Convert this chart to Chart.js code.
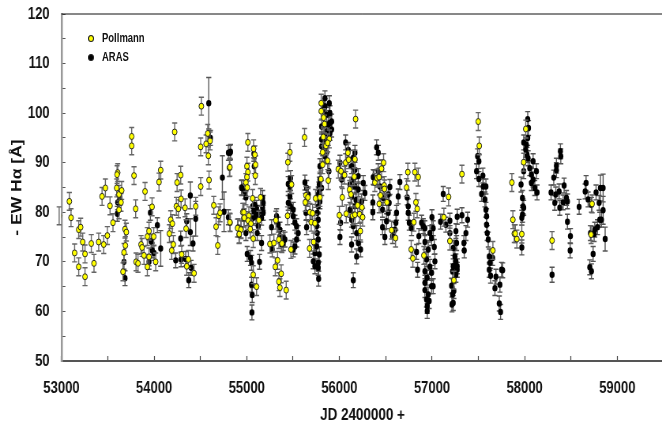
<!DOCTYPE html>
<html>
<head>
<meta charset="utf-8">
<title>EW H-alpha</title>
<script src="https://cdn.jsdelivr.net/npm/chart.js@4"></script>
<style>
  html, body { margin: 0; padding: 0; background: #fff; overflow: hidden; width: 662px; height: 426px; }
  #wrap { position: relative; width: 662px; height: 426px; overflow: hidden; }
  /* the picture is squeezed sideways, so the whole plot is drawn wide and scaled */
  #squeeze { position: absolute; left: 0; top: 0; width: 845px; height: 426px; transform: scaleX(0.79); transform-origin: 0 0; }
  .key { position: absolute; left: 102px; font: bold 12px "Liberation Sans", Arial, sans-serif; color: #111; line-height: 14px; transform: scaleX(0.79); transform-origin: 0 0; }
  .dot { position: absolute; left: 88px; width: 4px; height: 5px; border-radius: 50%; border: 1px solid #222; }
</style>
</head>
<body>
<div id="wrap">
  <div id="squeeze"><canvas id="ewChart" width="845" height="426"></canvas></div>
  <div class="dot" style="top:35px;background:#ffff00"></div>
  <div class="key" style="top:31px">Pollmann</div>
  <div class="dot" style="top:54px;background:#000"></div>
  <div class="key" style="top:50px">ARAS</div>
</div>
<script>
// Values
const pollmannJD = [52975,53085,53103,53186,53207,53229,53142,53186,53254,53254,53322,53351,53402,53456,53495,53438,53474,53524,53556,53596,53607,53600,53621,53650,53643,53621,53686,53700,53690,53675,53664,53758,53758,53783,53801,53902,53805,53826,53859,53870,53891,53927,53945,53978,53996,53945,53927,54017,54053,54071,54165,54179,54197,54190,54208,54222,54248,54287,54291,54240,54262,54334,54345,54298,54352,54370,54431,54449,54503,54510,54503,54579,54561,54604,54586,54593,54644,54669,54687,54698,54712,54813,54820,54906,54917,54939,54957,54968,
  54818,54818,54901,54937,54919,54969,54973,55023,55016,55045,55038,55070,55012,55074,55088,55095,55002,55012,55002,54991,55005,55092,55063,55149,55131,55070,55106,55250,55293,55315,55347,55380,55333,55308,55372,55347,55358,55426,55441,55444,55466,55484,55477,55624,55639,55660,55632,55682,55711,55696,55736,55722,55678,55743,55790,55880,55801,55819,55873,55819,55855,55891,55873,55826,55840,55830,55804,55804,56175,55988,56017,56056,56067,56092,56100,56168,56161,56031,56110,56125,56000,56074,56143,56168,56197,56244,56218,56251,56226,
  56383,56408,56428,56455,56477,56484,56487,56444,56430,56513,56563,56606,56739,56815,56851,56725,56826,56840,56804,56775,56793,56912,57128,57179,57193,57236,57323,57499,57510,57657,57862,57873,57888,57916,57899,
  57969,58012,57990,58296,58728,58717];
const pollmannEW = [79.3,82.2,78.9,76.5,77,74,71.8,69,71.6,67,73.7,69.7,74,73.5,75.3,83.2,84.9,81.3,77.9,84.9,88,87.6,83.6,84.4,82,80.5,76.6,76,73.3,71.9,68,95.3,93.4,87.4,80.7,84.2,70,69.7,73.5,72.9,71.3,75.1,76.2,81.1,75.1,71,69,70,86.1,88.5,75.7,78.5,77.7,72.3,73.5,96.2,86,87.5,82.7,81.2,80.7,80.9,76.7,71.5,69.1,70.5,67.7,81.2,93.2,101.4,85.2,95.9,93.8,94.4,91.4,86.5,81.4,77.1,73.3,79.3,79.9,89,77.9,76.9,75.5,76.6,80,78.8,
  89.1,78,76.8,76.5,75.6,80,78.9,79.3,78.3,77.7,76.6,74.7,94.1,92.8,91.6,89.6,89.3,88.1,87.1,86,85,87.4,82.8,83,78.4,67.4,65,73.6,73.8,78.4,74.5,73.7,70.3,69,67.6,66,64.8,64.3,79.3,90.1,92.1,85.6,72.5,95.1,83.4,83,82,80,79.8,78,77.8,74,72.7,82.8,83,86.4,86.7,89.6,90.4,92.1,93.4,94.8,94,95.2,97.8,99.1,100.4,102,98.8,88.7,88.3,87.5,90,92,90.6,90.7,87.2,83,84.6,83.6,79.4,79.7,79.3,79.5,81.4,81,79.6,79,76.2,
  86,86.9,87.1,88.8,90,85.4,84.7,83.4,81.7,82,76.4,74.8,88.1,88.1,87.1,85,82,80.7,78,72.5,70.7,71.3,79,83.1,74.2,66.3,87.7,98.3,93.4,72.3,86,78.5,75.7,74.6,75.7,
  75.6,96.8,90.1,74.3,81.7,75.5];

const arasJD = [54590,54608,53603,53607,53632,53686,53675,53960,54035,54071,53981,53999,53945,53967,54233,54287,54291,54352,54391,54391,54420,54449,54341,54374,54399,54737,54755,54802,54820,54802,54946,
  54825,54944,54980,54991,55077,55081,55063,55088,55106,55077,55099,55124,55070,55171,55178,55171,55178,55160,55124,55113,54991,55160,55005,55041,55052,55138,55052,55059,55056,55268,55275,55322,55340,55358,55358,55394,55412,55376,55394,55473,55473,55448,55466,55466,55448,55473,55502,55502,55520,55538,55556,55538,55520,55502,55628,55646,55664,55639,55646,
  55779,55772,55790,55772,55761,55772,55754,55761,55772,55754,55736,55783,55718,55772,55736,55772,55776,55844,55891,55844,55898,55862,55916,55880,55862,55916,55844,55880,55808,55862,55844,55887,55790,55808,55808,55826,55898,55898,55862,55790,55783,55808,
  56067,56006,56024,56096,56168,56150,56132,56168,56204,56150,56114,56168,56204,56132,56179,56258,56276,56240,56168,56114,56132,56150,56186,56204,56132,56186,56229,56150,56013,56006,56402,56420,56373,
  56361,56361,56365,56419,56437,56473,56466,56466,56491,56545,56527,56538,56527,56509,56574,56599,56610,56617,56635,56653,56732,56743,56743,56754,56779,56833,56844,56858,56887,56905,56923,56999,57013,56977,56995,56923,57024,56959,57031,56941,56977,56923,56995,56948,56995,56923,57013,56923,56959,56941,56970,56948,56948,
  57121,57092,57150,57193,57193,57258,57265,57229,57272,57323,57384,57366,57344,57348,57247,57258,57229,57272,57222,57272,57258,57211,57236,57222,57229,57215,57492,57506,57481,57506,57549,57553,57535,57582,57571,57582,57589,57589,57596,57607,57618,57654,57625,57618,57632,57690,57751,57762,57679,57733,57726,57740,
  58033,58041,58033,57990,58019,58012,58026,58037,58091,57990,58055,58127,58073,58091,58073,58109,58134,57961,57976,57983,57990,57976,57969,57969,58386,58390,58343,58343,58314,58285,58336,58372,58426,58325,58415,58379,58451,58462,58462,58494,58491,58296,58588,58663,58653,58685,58721,58771,58818,58847,58804,58847,58811,58829,58786,58757,58710,58750,58869,58739,58703,58721];
const arasEW = [102,95,79.7,82,82.9,66.7,70,79.9,77.4,72.7,72.3,71.8,70,74.1,70.3,74.7,70.5,78.2,83.4,76,73.7,78.7,70.6,66.3,68.8,87,80.1,92,92,79,84.9,
  92.2,85,84.2,83,91.8,89.3,81.2,81.5,80.9,80.2,79.2,79.9,78.9,82.9,81.9,80.9,79.9,78.9,77.2,75.8,75.8,73.8,71.6,70.8,69.8,70,65.4,63.3,59.8,77,72.5,79.2,77.5,76.5,75.2,74.8,74.5,73.5,73.8,86.9,85.9,85.7,85.2,83.2,81.9,81.2,80.5,79.2,77.9,77.2,75.8,74.5,73.1,72.5,86,84.9,83.6,79.9,77,
  84.6,83.6,82.2,81.2,79.9,78.5,77.2,75.8,74.5,73.1,71.8,71.5,70.1,69.8,69.1,68.8,66.6,103,102,101.4,100,99.7,98.3,97.7,96.3,96.7,95.7,95,93.3,92,91.3,88.3,89.3,97.3,94.7,100.7,98,96,94.3,86.6,85.6,84.9,
  94.1,90,86.6,92.6,92,91,89.3,88.6,87.3,86.6,85.6,85.2,84.6,83.2,82.5,85.9,83.9,82.2,81.2,80.5,78.5,77.2,75.8,73.8,73.5,71.1,72.5,66.3,77.9,75,93.1,92,87,
  82,80,87.1,88.3,85.2,82.9,80.5,77,75,85.1,83.6,81.9,79.9,78.2,75.2,76.5,77.9,79.9,83.2,86.1,83,81.2,79.9,77.9,76.8,72,68.4,75.2,77.9,77.2,76.8,79,76.8,75.8,74.8,74,73,72.5,70.1,70.5,69,68.1,67.8,66.8,65.1,65.8,65.1,64.3,63.4,62.4,62.1,61.1,60.1,
  83.7,78.1,77.5,78.3,75.8,76.2,73.8,72.8,79.1,79.4,78.5,75.8,73.8,72.3,71.1,70.1,69.1,69.1,68.1,68.4,67.4,65.2,64.1,63.4,61.7,61.4,91.3,90.3,88.3,86.7,87.4,85.2,83.7,85.2,82.6,80.5,79.2,77.5,75.8,74.5,71.1,70.8,69.8,68.4,67.2,67,68.4,68.3,64.7,65.4,61.6,59.9,
  98.8,97,95,94.1,93.6,92.6,91.6,90.9,90.3,88.3,88.9,88.3,87.6,86.6,85.9,84.9,84,85.6,82.9,81.2,80.9,79.5,78.9,72.9,92.3,91.3,89.4,88.5,87,84,83.6,84.2,85.4,81.9,82,80.9,82.9,82.2,78.1,75.2,72.3,67.4,81.1,85.9,84.2,82.6,81.5,84,84.9,84.9,81.9,80.4,78.5,78.5,77,76.5,75.8,75.6,74.6,71.6,68.9,68.1];

// typical half-length of the error bars, and the few longer ones on ARAS (by JD)
const pollmannErr = 1.8;
const arasErr = 1.5;
const arasLongErr = { 54590: 5.2, 54737: 4.4, 54755: 4, 54071: 3.6, 54449: 3.5, 54391: 2.7, 58869: 2.4, 58847: 2.8, 58818: 2.6 };

const yTicks = [50, 60, 70, 80, 90, 100, 110, 120];
const xTicks = [53000, 54000, 55000, 56000, 57000, 58000, 59000];

const labelFont = '"Liberation Sans", Arial, sans-serif';

function toPoints(xs, ys) {
  const pts = [];
  for (let i = 0; i < xs.length; i++) pts.push({ x: xs[i], y: ys[i] });
  return pts;
}

// Chart.js has no error bars of its own, draw them under each dataset
const errorBars = {
  id: 'errorBars',
  beforeDatasetDraw(chart, args) {
    const ds = chart.data.datasets[args.index];
    const ctx = chart.ctx;
    const xs = chart.scales.x;
    const ys = chart.scales.y;
    ctx.save();
    ctx.strokeStyle = ds.errColor;
    ctx.lineWidth = 1.4;
    ds.data.forEach((p) => {
      const e = ds.errOf(p);
      const px = xs.getPixelForValue(p.x);
      const top = ys.getPixelForValue(p.y + e);
      const bottom = ys.getPixelForValue(p.y - e);
      ctx.beginPath();
      ctx.moveTo(px, top);
      ctx.lineTo(px, bottom);
      ctx.moveTo(px - 3.2, top);
      ctx.lineTo(px + 3.2, top);
      ctx.moveTo(px - 3.2, bottom);
      ctx.lineTo(px + 3.2, bottom);
      ctx.stroke();
    });
    ctx.restore();
  },
  afterDraw(chart) {
    // thin black line along the top of the plot
    const a = chart.chartArea;
    const ctx = chart.ctx;
    ctx.save();
    ctx.strokeStyle = '#111';
    ctx.lineWidth = 1;
    ctx.beginPath();
    ctx.moveTo(a.left, a.top);
    ctx.lineTo(a.right, a.top);
    ctx.stroke();
    ctx.restore();
  },
};

const ctx = document.getElementById('ewChart').getContext('2d');
new Chart(ctx, {
  type: 'scatter',
  plugins: [errorBars],
  data: {
    datasets: [
      {
        label: 'Pollmann',
        data: toPoints(pollmannJD, pollmannEW),
        backgroundColor: '#ffff00',
        borderColor: '#222',
        borderWidth: 1,
        pointRadius: 3,
        errColor: '#666',
        errOf: () => pollmannErr,
      },
      {
        label: 'ARAS',
        data: toPoints(arasJD, arasEW),
        backgroundColor: '#000',
        borderColor: '#000',
        borderWidth: 0,
        pointRadius: 3.2,
        errColor: '#555',
        errOf: (p) => arasLongErr[p.x] || arasErr,
      },
    ],
  },
  options: {
    responsive: false,
    animation: false,
    layout: { padding: { top: 14, right: 0, left: 0, bottom: 0 } },
    plugins: { legend: { display: false }, tooltip: { enabled: false } },
    scales: {
      x: {
        type: 'linear',
        min: 53000,
        max: 59500,
        afterBuildTicks(axis) {
          const t = [];
          for (let v = 53000; v <= 59500; v += 500) t.push({ value: v });
          axis.ticks = t;
        },
        afterFit(axis) { axis.height = 65; axis.paddingLeft = 0; axis.paddingRight = 0; },
        grid: { display: true, drawOnChartArea: false, drawTicks: true, tickLength: -5, color: '#444', tickWidth: 1.2 },
        border: { display: true, color: '#555', width: 2 },
        ticks: {
          autoSkip: false,
          maxRotation: 0,
          padding: 23,
          color: '#111',
          font: { family: labelFont, size: 16.5, weight: 'bold' },
          callback: (v) => (xTicks.includes(v) ? String(v) : ''),
        },
        title: {
          display: true,
          text: 'JD 2400000 +',
          color: '#111',
          font: { family: labelFont, size: 17, weight: 'bold' },
          padding: { top: 1, bottom: 0 },
        },
      },
      y: {
        min: 50,
        max: 120,
        afterBuildTicks(axis) {
          const t = [];
          for (let v = 50; v <= 120; v += 5) t.push({ value: v });
          axis.ticks = t;
        },
        afterFit(axis) { axis.width = 77.8; axis.paddingTop = 0; axis.paddingBottom = 0; },
        grid: { display: true, drawOnChartArea: false, drawTicks: true, tickLength: -5, color: '#555', tickWidth: 1 },
        border: { display: true, color: '#999', width: 2.5 },
        ticks: {
          autoSkip: false,
          padding: 20,
          color: '#111',
          font: { family: labelFont, size: 16.5, weight: 'bold' },
          callback: (v) => (yTicks.includes(v) ? String(v) : ''),
        },
        title: {
          display: true,
          text: '- EW H\u03b1 [\u00c5]',
          color: '#111',
          font: { family: labelFont, size: 17.5, weight: 'bold' },
          padding: { top: 12, bottom: 0 },
        },
      },
    },
  },
});
</script>
</body>
</html>
